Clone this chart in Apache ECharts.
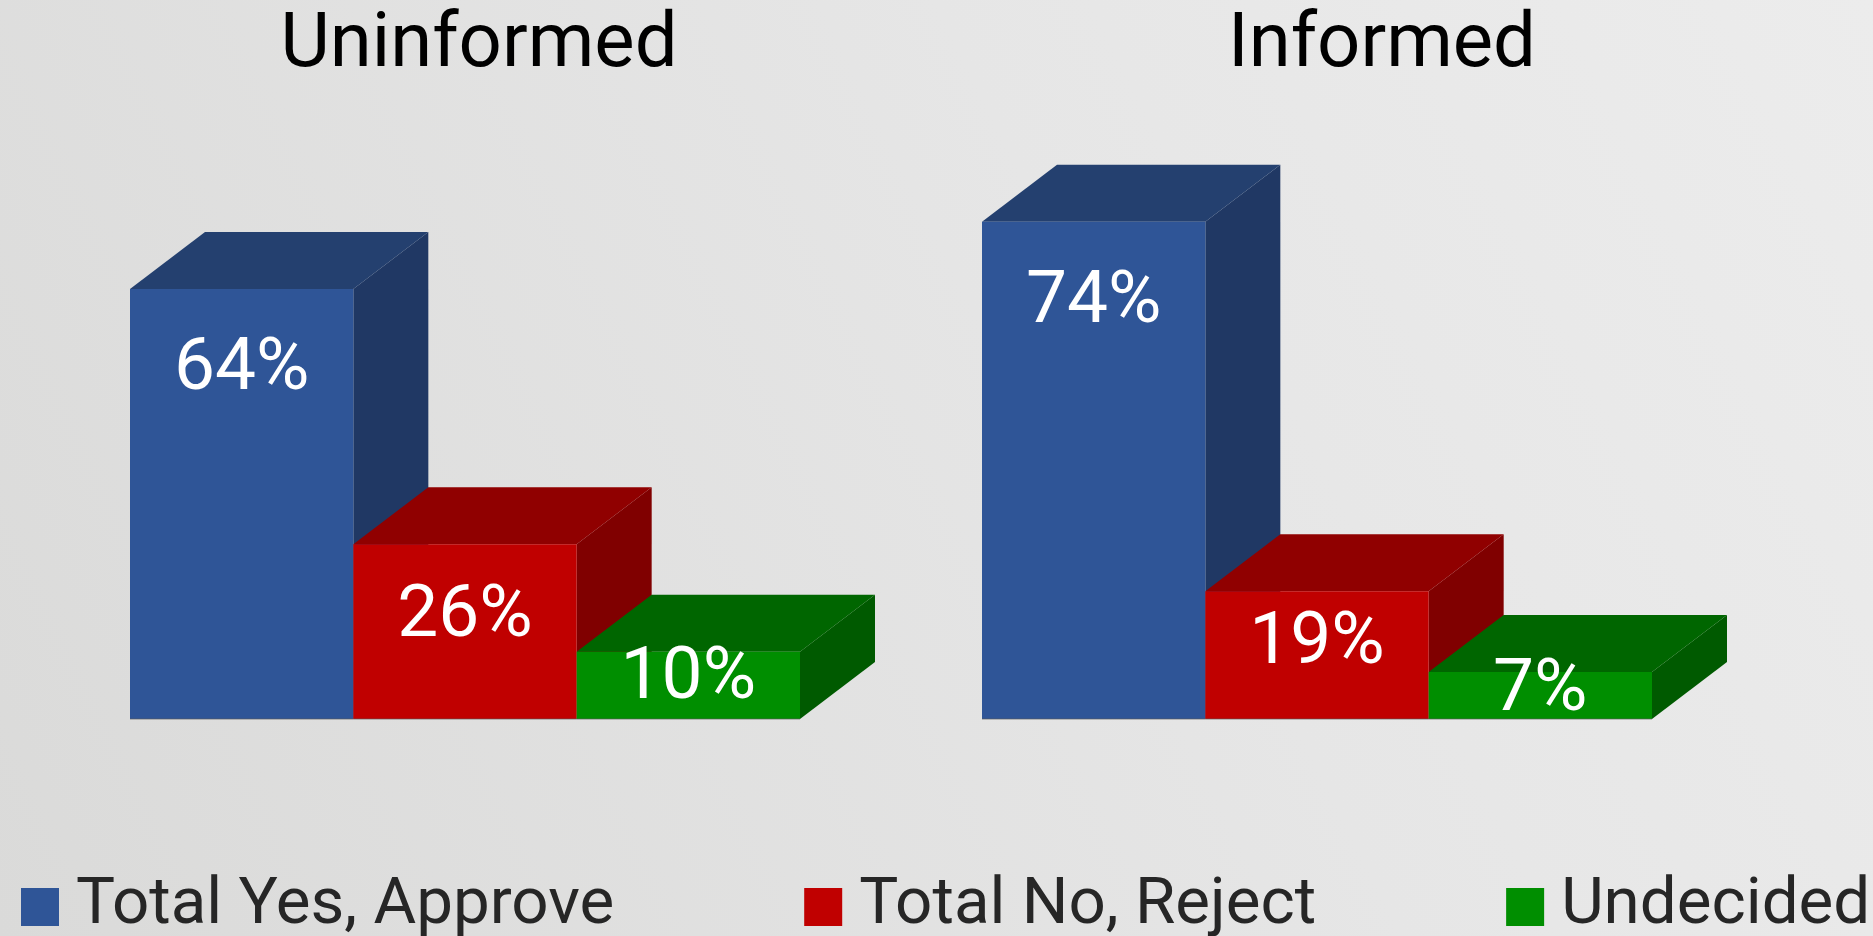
<!DOCTYPE html>
<html>
<head>
<meta charset="utf-8">
<title>Uninformed vs Informed</title>
<script src="https://cdn.jsdelivr.net/npm/echarts@6/dist/echarts.min.js"></script>
<style>
  html, body { margin: 0; padding: 0; }
  #chart { width: 1873px; height: 936px; }
</style>
</head>
<body>
<div id="chart"></div>
<script>
// data
const groups = ['Uninformed', 'Informed']
const answers = ['Total Yes, Approve', 'Total No, Reject', 'Undecided']
const yesValues = [64, 74]
const noValues = [26, 19]
const undecidedValues = [10, 7]

const seriesValues = [yesValues, noValues, undecidedValues]

// front / top / side shades
const palette = [
  { front: '#2F5597', top: '#24406F', side: '#203864' },
  { front: '#C00000', top: '#900000', side: '#800000' },
  { front: '#008E00', top: '#006600', side: '#005A00' }
]

const DX = 75
const DY = 57

const chart = echarts.init(document.getElementById('chart'))

const renderBar = (shade) => (params, api) => {
  const top = api.coord([api.value(0), api.value(1)])
  const base = api.coord([api.value(0), 0])
  const w = api.size([1, 0])[0]
  const x = top[0] - w / 2
  const h = base[1] - top[1]
  const labelY = top[1] + Math.min(82, h * 0.42)
  return {
    type: 'group',
    children: [
      {
        type: 'polygon',
        shape: { points: [[x + w, top[1]], [x + w + DX, top[1] - DY], [x + w + DX, base[1] - DY], [x + w, base[1]]] },
        style: { fill: shade.side }
      },
      {
        type: 'polygon',
        shape: { points: [[x, top[1]], [x + DX, top[1] - DY], [x + w + DX, top[1] - DY], [x + w, top[1]]] },
        style: { fill: shade.top }
      },
      {
        type: 'rect',
        shape: { x: x, y: top[1], width: w, height: h },
        style: { fill: shade.front }
      },
      {
        type: 'line',
        shape: { x1: x, y1: base[1], x2: x + w, y2: base[1] },
        style: { stroke: 'rgba(90,90,90,0.45)', lineWidth: 1.5 }
      },
      {
        type: 'text',
        x: top[0],
        y: labelY,
        style: {
          text: api.value(1) + '%',
          fill: '#ffffff',
          font: '73px Roboto',
          align: 'center',
          verticalAlign: 'middle'
        }
      }
    ]
  }
}

const series = []
answers.forEach((name, i) => {
  groups.forEach((g, gi) => {
    series.push({
      name: name,
      type: 'custom',
      xAxisIndex: gi,
      yAxisIndex: gi,
      itemStyle: { color: palette[i].front },
      renderItem: renderBar(palette[i]),
      data: [[i, seriesValues[i][gi]]],
      silent: true
    })
  })
})

chart.setOption({
  backgroundColor: {
    type: 'linear',
    x: 0, y: 1, x2: 1, y2: 0,
    colorStops: [
      { offset: 0, color: '#dadad9' },
      { offset: 0.6, color: '#e6e6e6' },
      { offset: 1, color: '#ececec' }
    ]
  },
  animation: false,
  title: [
    {
      text: groups[0],
      left: 474,
      top: 4,
      textAlign: 'center',
      textStyle: { fontFamily: 'Roboto', fontSize: 76, fontWeight: 'normal', color: '#000' }
    },
    {
      text: groups[1],
      left: 1377,
      top: 4,
      textAlign: 'center',
      textStyle: { fontFamily: 'Roboto', fontSize: 76, fontWeight: 'normal', color: '#000' }
    }
  ],
  legend: {
    data: answers,
    left: 21,
    top: 874,
    padding: 0,
    icon: 'rect',
    itemWidth: 38,
    itemHeight: 38,
    itemGap: 190,
    selectedMode: false,
    textStyle: {
      fontFamily: 'Roboto',
      fontSize: 65.5,
      lineHeight: 60,
      color: '#262626',
      padding: [0, 0, 0, 12]
    }
  },
  grid: [
    { left: 130, width: 670, top: 47, height: 672 },
    { left: 982, width: 670, top: 47, height: 672 }
  ],
  xAxis: [0, 1].map(gi => ({
    type: 'category',
    gridIndex: gi,
    data: answers,
    show: false
  })),
  yAxis: [0, 1].map(gi => ({
    type: 'value',
    gridIndex: gi,
    min: 0,
    max: 100,
    show: false
  })),
  series: series
})

window.addEventListener('resize', () => chart.resize())
</script>
</body>
</html>
